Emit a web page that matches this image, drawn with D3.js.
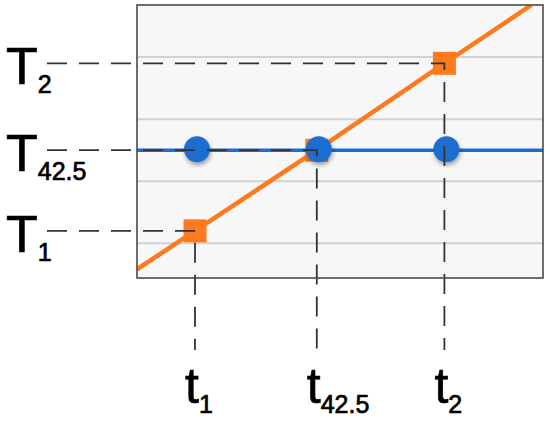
<!DOCTYPE html>
<html>
<head>
<meta charset="utf-8">
<script src="https://cdn.jsdelivr.net/npm/d3@7"></script>
<style>
  body { margin: 0; background: #fff; }
  text { font-family: "Liberation Sans", Arial, sans-serif; fill: #000; stroke: #000; stroke-width: 0.7px; }
</style>
</head>
<body>
<div id="viz"></div>
<script>
// gridline temperatures
const gridTemps = [35, 40, 45, 50];

// orange ramp (time, temperature)
const rampTime = [0, 1, 3.1, 5.3, 6.8];
const rampTemp = [32.9, 36, 42.5, 49.5, 54.2];

// square markers on the ramp
const squareTime = [1, 3.1, 5.3];
const squareTemp = [36, 42.5, 49.5];

// blue hold line and its markers
const holdTime = [0, 7];
const holdTemp = [42.5, 42.5];
const circleTime = [1, 3.1, 5.3];

// reading guides: one per square, labels in the same order
const tempLabels = ["1", "42.5", "2"];
const timeLabels = ["1", "42.5", "2"];

const width = 550;
const height = 421;

const svg = d3.select("#viz")
  .append("svg")
  .attr("width", width)
  .attr("height", height);

const box = { left: 137, right: 543, top: 5, bottom: 278 };

const x = d3.scaleLinear().domain([0, 7]).range([box.left, box.right]);
const y = d3.scaleLinear().domain([32.2, 54.2]).range([box.bottom, box.top]);

const defs = svg.append("defs");
defs.append("clipPath").attr("id", "plot")
  .append("rect")
  .attr("x", box.left).attr("y", box.top)
  .attr("width", box.right - box.left).attr("height", box.bottom - box.top);

const shadow = defs.append("filter").attr("id", "shadow")
  .attr("x", "-50%").attr("y", "-50%").attr("width", "200%").attr("height", "200%");
shadow.append("feDropShadow")
  .attr("dx", 1).attr("dy", 3).attr("stdDeviation", 2)
  .attr("flood-color", "#000").attr("flood-opacity", 0.35);

// plot background
svg.append("rect")
  .attr("x", box.left).attr("y", box.top)
  .attr("width", box.right - box.left).attr("height", box.bottom - box.top)
  .attr("fill", "#f7f7f7");

// gridlines
svg.selectAll(".grid")
  .data(gridTemps)
  .enter()
  .append("line")
  .attr("x1", box.left).attr("x2", box.right)
  .attr("y1", d => y(d)).attr("y2", d => y(d))
  .attr("stroke", "#d2d2d2")
  .attr("stroke-width", 2);

const plot = svg.append("g").attr("clip-path", "url(#plot)");

// orange ramp
const line = d3.line().x(d => x(d[0])).y(d => y(d[1]));
plot.append("path")
  .attr("d", line(d3.zip(rampTime, rampTemp)))
  .attr("fill", "none")
  .attr("stroke", "#ff7a1c")
  .attr("stroke-width", 4.5);

const sq = 23;
plot.selectAll(".sq")
  .data(d3.zip(squareTime, squareTemp))
  .enter()
  .append("rect")
  .attr("x", d => x(d[0]) - sq / 2)
  .attr("y", d => y(d[1]) - sq / 2)
  .attr("width", sq).attr("height", sq)
  .attr("fill", "#ff7a1c");

// blue hold line
plot.append("path")
  .attr("d", line(d3.zip(holdTime, holdTemp)))
  .attr("fill", "none")
  .attr("stroke", "#1a6ed0")
  .attr("stroke-width", 3.5);

plot.selectAll(".dot")
  .data(circleTime)
  .enter()
  .append("circle")
  .attr("cx", d => x(d) + 2)
  .attr("cy", y(42.5) - 1)
  .attr("r", 13)
  .attr("fill", "#1a6ed0")
  .attr("filter", "url(#shadow)");

// dashed guides
const dash = "20,12";
const guideBottom = 350;
svg.selectAll(".guide")
  .data(d3.zip(squareTime, squareTemp))
  .enter()
  .append("path")
  .attr("d", d => `M47,${y(d[1])}H${x(d[0])}V${guideBottom}`)
  .attr("fill", "none")
  .attr("stroke", "#333")
  .attr("stroke-width", 1.8)
  .attr("stroke-dasharray", dash);

// frame
svg.append("rect")
  .attr("x", box.left).attr("y", box.top)
  .attr("width", box.right - box.left).attr("height", box.bottom - box.top)
  .attr("fill", "none")
  .attr("stroke", "#4a4a4a")
  .attr("stroke-width", 1.6);

// temperature labels
const tl = svg.selectAll(".tlab")
  .data(d3.zip(tempLabels, squareTemp))
  .enter()
  .append("text")
  .attr("x", 6)
  .attr("y", d => y(d[1]) + 21)
  .style("font-size", "52px");
tl.append("tspan").text("T");
tl.append("tspan")
  .attr("dy", 9)
  .style("font-size", "25px")
  .text(d => d[0]);

// time labels
const xl = svg.selectAll(".xlab")
  .data(d3.zip(timeLabels, squareTime))
  .enter()
  .append("text")
  .attr("x", d => x(d[1]) - 10)
  .attr("y", 403)
  .style("font-size", "50px");
xl.append("tspan").text("t");
xl.append("tspan")
  .attr("dy", 10)
  .style("font-size", "25px")
  .text(d => d[0]);
</script>
</body>
</html>
